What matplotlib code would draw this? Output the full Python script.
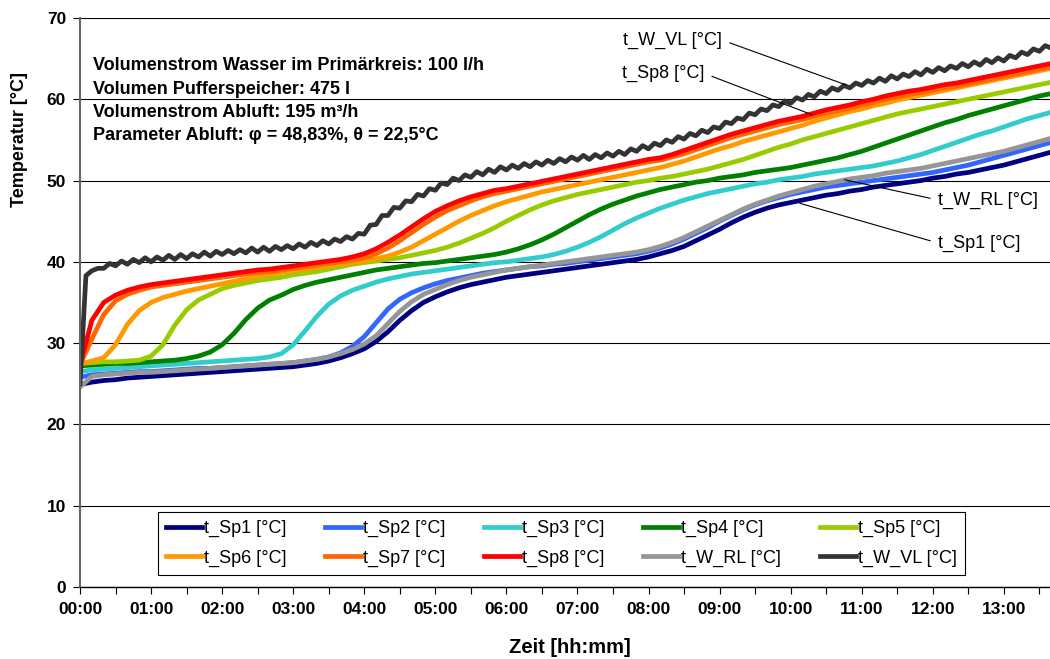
import matplotlib
matplotlib.use("Agg")
import matplotlib.pyplot as plt
import numpy as np
from matplotlib.ticker import MultipleLocator

plt.rcParams["font.family"] = ["Liberation Sans", "DejaVu Sans"]

# storage temperatures, one value every 10 minutes starting at 00:00
t_sp1 = [
    24.9, 25.2, 25.4, 25.5, 25.7, 25.8,
    25.9, 26.0, 26.1, 26.2, 26.3, 26.4,
    26.5, 26.6, 26.7, 26.8, 26.9, 27.0,
    27.1, 27.3, 27.5, 27.8, 28.2, 28.7,
    29.3, 30.2, 31.4, 32.8, 34.0, 35.0,
    35.7, 36.3, 36.8, 37.2, 37.5, 37.8,
    38.1, 38.3, 38.5, 38.7, 38.9, 39.1,
    39.3, 39.5, 39.7, 39.9, 40.1, 40.3,
    40.6, 41.0, 41.4, 41.9, 42.6, 43.3,
    44.0, 44.8, 45.5, 46.1, 46.6, 47.0,
    47.3, 47.6, 47.9, 48.2, 48.4, 48.7,
    48.9, 49.2, 49.4, 49.6, 49.8, 50.0,
    50.3, 50.5, 50.8, 51.0, 51.3, 51.6,
    51.9, 52.3, 52.7, 53.1, 53.5, 53.8,
]
t_sp2 = [
    25.8, 26.1, 26.2, 26.3, 26.4, 26.5,
    26.5, 26.6, 26.7, 26.8, 26.9, 26.9,
    27.0, 27.1, 27.2, 27.3, 27.4, 27.5,
    27.6, 27.8, 28.0, 28.3, 28.8, 29.6,
    30.8, 32.5, 34.2, 35.4, 36.2, 36.8,
    37.3, 37.7, 38.0, 38.3, 38.6, 38.8,
    39.0, 39.2, 39.4, 39.5, 39.7, 39.8,
    40.0, 40.2, 40.4, 40.6, 40.8, 41.0,
    41.3, 41.7, 42.2, 42.8, 43.5, 44.2,
    45.0, 45.7, 46.4, 47.0, 47.5, 47.9,
    48.3, 48.6, 48.9, 49.2, 49.4, 49.6,
    49.8, 50.0, 50.2, 50.4, 50.6, 50.8,
    51.0, 51.3, 51.6, 51.9, 52.3, 52.7,
    53.1, 53.5, 53.9, 54.3, 54.7, 55.0,
]
t_sp3 = [
    26.5, 26.7, 26.8, 26.9, 27.0, 27.1,
    27.2, 27.3, 27.4, 27.5, 27.6, 27.7,
    27.8, 27.9, 28.0, 28.1, 28.3, 28.7,
    29.8, 31.5, 33.3, 34.8, 35.8, 36.5,
    37.0, 37.5, 37.9, 38.2, 38.5, 38.7,
    38.9, 39.1, 39.3, 39.5, 39.7, 39.9,
    40.0, 40.2, 40.4, 40.6, 40.9, 41.3,
    41.8, 42.4, 43.1, 43.9, 44.7, 45.4,
    46.0, 46.6, 47.1, 47.6, 48.0, 48.4,
    48.7, 49.0, 49.3, 49.6, 49.8, 50.1,
    50.3, 50.5, 50.8, 51.0, 51.2, 51.4,
    51.6, 51.8, 52.1, 52.4, 52.8, 53.2,
    53.7, 54.2, 54.7, 55.2, 55.7, 56.1,
    56.6, 57.1, 57.6, 58.0, 58.4, 58.7,
]
t_sp4 = [
    27.2, 27.3, 27.4, 27.5, 27.5, 27.6,
    27.7, 27.8, 27.9, 28.1, 28.4, 28.9,
    29.8, 31.2, 32.9, 34.3, 35.3, 35.9,
    36.6, 37.1, 37.5, 37.8, 38.1, 38.4,
    38.7, 39.0, 39.2, 39.4, 39.6, 39.8,
    39.9, 40.1, 40.3, 40.5, 40.7, 40.9,
    41.2, 41.6, 42.1, 42.7, 43.4, 44.2,
    45.0, 45.8, 46.5, 47.1, 47.6, 48.1,
    48.5, 48.9, 49.2, 49.5, 49.8, 50.0,
    50.3, 50.5, 50.7, 51.0, 51.2, 51.4,
    51.6, 51.9, 52.2, 52.5, 52.8, 53.2,
    53.6, 54.1, 54.6, 55.1, 55.6, 56.1,
    56.6, 57.1, 57.5, 58.0, 58.4, 58.8,
    59.2, 59.6, 60.0, 60.4, 60.7, 60.9,
]
t_sp5 = [
    27.5, 27.6, 27.7, 27.7, 27.8, 27.9,
    28.4, 29.8, 32.2, 34.1, 35.3, 36.0,
    36.7, 37.1, 37.4, 37.7, 37.9, 38.1,
    38.4, 38.6, 38.8, 39.1, 39.4, 39.7,
    39.9, 40.1, 40.3, 40.5, 40.8, 41.1,
    41.4, 41.8, 42.3, 42.9, 43.5, 44.2,
    45.0, 45.7, 46.4, 47.0, 47.5, 47.9,
    48.3, 48.6, 48.9, 49.2, 49.5, 49.8,
    50.0, 50.3, 50.5, 50.8, 51.1, 51.4,
    51.8, 52.2, 52.6, 53.1, 53.6, 54.1,
    54.5, 55.0, 55.4, 55.8, 56.2, 56.6,
    57.0, 57.4, 57.8, 58.2, 58.5, 58.8,
    59.1, 59.4, 59.7, 60.0, 60.3, 60.6,
    60.9, 61.2, 61.5, 61.8, 62.1, 62.3,
]
t_sp6 = [
    27.4, 27.8, 28.2, 29.8, 32.3, 34.0,
    35.0, 35.6, 36.0, 36.4, 36.7, 37.0,
    37.3, 37.6, 37.9, 38.2, 38.4, 38.7,
    38.9, 39.1, 39.3, 39.5, 39.7, 39.9,
    40.1, 40.4, 40.7, 41.2, 41.8, 42.6,
    43.4, 44.2, 45.0, 45.7, 46.3, 46.9,
    47.4, 47.8, 48.2, 48.6, 48.9, 49.2,
    49.5, 49.8, 50.1, 50.4, 50.7, 51.0,
    51.3, 51.6, 52.0, 52.4, 52.9, 53.4,
    53.9, 54.3, 54.8, 55.2, 55.6, 56.0,
    56.4, 56.8, 57.3, 57.7, 58.1, 58.5,
    58.8, 59.2, 59.5, 59.9, 60.2, 60.5,
    60.8, 61.1, 61.4, 61.7, 62.0, 62.3,
    62.6, 62.9, 63.2, 63.5, 63.8, 64.0,
]
t_sp7 = [
    27.3, 30.5, 33.5, 35.2, 36.0, 36.5,
    36.9, 37.1, 37.3, 37.5, 37.7, 37.9,
    38.1, 38.3, 38.5, 38.7, 38.8, 39.0,
    39.2, 39.4, 39.6, 39.8, 40.0, 40.2,
    40.5, 41.0, 41.7, 42.6, 43.6, 44.6,
    45.5, 46.3, 46.9, 47.5, 48.0, 48.4,
    48.7, 49.0, 49.3, 49.6, 49.9, 50.2,
    50.5, 50.8, 51.1, 51.4, 51.7, 52.0,
    52.3, 52.5, 52.9, 53.3, 53.8, 54.3,
    54.8, 55.3, 55.7, 56.1, 56.5, 56.9,
    57.2, 57.5, 57.9, 58.3, 58.6, 58.9,
    59.3, 59.6, 60.0, 60.3, 60.6, 60.8,
    61.1, 61.4, 61.6, 61.9, 62.2, 62.5,
    62.8, 63.1, 63.4, 63.7, 64.0, 64.2,
]
t_sp8 = [
    27.3, 32.8, 35.0, 35.9, 36.5, 36.9,
    37.2, 37.4, 37.6, 37.8, 38.0, 38.2,
    38.4, 38.6, 38.8, 39.0, 39.1, 39.3,
    39.5, 39.7, 39.9, 40.1, 40.3, 40.6,
    41.0, 41.6, 42.4, 43.3, 44.3, 45.3,
    46.2, 46.9, 47.5, 48.0, 48.4, 48.8,
    49.0, 49.3, 49.6, 49.9, 50.2, 50.5,
    50.8, 51.1, 51.4, 51.7, 52.0, 52.3,
    52.6, 52.8, 53.2, 53.7, 54.2, 54.7,
    55.2, 55.7, 56.1, 56.5, 56.9, 57.3,
    57.6, 57.9, 58.3, 58.7, 59.0, 59.3,
    59.7, 60.0, 60.4, 60.7, 61.0, 61.2,
    61.5, 61.8, 62.0, 62.3, 62.6, 62.9,
    63.2, 63.5, 63.8, 64.1, 64.4, 64.6,
]
t_w_rl = [
    24.6, 25.9, 26.1, 26.2, 26.3, 26.4,
    26.4, 26.5, 26.6, 26.7, 26.8, 26.9,
    27.0, 27.1, 27.2, 27.3, 27.4, 27.5,
    27.6, 27.8, 28.0, 28.3, 28.7, 29.2,
    29.9, 30.9, 32.4, 33.9, 35.1, 36.0,
    36.6, 37.2, 37.7, 38.1, 38.4, 38.7,
    39.0, 39.2, 39.4, 39.6, 39.8, 40.0,
    40.2, 40.4, 40.6, 40.8, 41.0, 41.2,
    41.5, 41.9, 42.4, 43.0, 43.7, 44.4,
    45.1, 45.8, 46.5, 47.1, 47.6, 48.1,
    48.5, 48.9, 49.3, 49.6, 49.9, 50.2,
    50.4, 50.6, 50.9, 51.1, 51.3, 51.5,
    51.8, 52.1, 52.4, 52.7, 53.0, 53.3,
    53.6, 54.0, 54.4, 54.8, 55.2, 55.5,
]
# supply temperature, one value every 5 minutes
t_w_vl = [
    25.0, 38.3, 38.9, 39.2, 39.2, 39.8, 39.5, 40.1, 39.7, 40.3, 39.9, 40.5,
    40.0, 40.6, 40.2, 40.8, 40.3, 40.9, 40.4, 41.0, 40.6, 41.2, 40.7, 41.3,
    40.9, 41.4, 41.0, 41.5, 41.1, 41.7, 41.2, 41.8, 41.3, 41.9, 41.5, 42.0,
    41.6, 42.2, 41.8, 42.4, 42.0, 42.6, 42.2, 42.8, 42.5, 43.1, 42.8, 43.5,
    43.4, 44.5, 44.6, 45.7, 45.7, 46.7, 46.6, 47.5, 47.4, 48.3, 48.1, 49.0,
    48.8, 49.7, 49.5, 50.3, 50.0, 50.7, 50.4, 51.1, 50.7, 51.4, 51.0, 51.7,
    51.3, 51.9, 51.5, 52.1, 51.7, 52.3, 51.9, 52.5, 52.1, 52.7, 52.3, 52.9,
    52.5, 53.1, 52.6, 53.2, 52.8, 53.4, 53.0, 53.6, 53.2, 53.9, 53.6, 54.3,
    53.9, 54.6, 54.3, 55.0, 54.7, 55.4, 55.1, 55.8, 55.5, 56.2, 55.9, 56.6,
    56.4, 57.2, 57.0, 57.7, 57.5, 58.3, 58.1, 58.8, 58.6, 59.3, 59.1, 59.8,
    59.5, 60.2, 59.9, 60.6, 60.3, 61.0, 60.7, 61.4, 61.1, 61.7, 61.4, 62.0,
    61.7, 62.3, 62.0, 62.6, 62.2, 62.9, 62.5, 63.1, 62.8, 63.4, 63.0, 63.7,
    63.3, 63.9, 63.5, 64.1, 63.8, 64.4, 64.0, 64.6, 64.2, 64.9, 64.5, 65.1,
    64.7, 65.4, 65.1, 65.8, 65.5, 66.2, 65.9, 66.6, 66.3,
]

hour_labels = ["00:00", "01:00", "02:00", "03:00", "04:00", "05:00", "06:00",
               "07:00", "08:00", "09:00", "10:00", "11:00", "12:00", "13:00"]

info_lines = [
    "Volumenstrom Wasser im Primärkreis: 100 l/h",
    "Volumen Pufferspeicher: 475 l",
    "Volumenstrom Abluft: 195 m³/h",
    "Parameter Abluft: φ = 48,83%, θ = 22,5°C",
]

hours = np.arange(len(t_sp1)) / 6.0
vl_hours = np.arange(len(t_w_vl)) / 12.0

series = [
    ("t_Sp1 [°C]", hours, t_sp1, "#000080"),
    ("t_Sp2 [°C]", hours, t_sp2, "#3366FF"),
    ("t_Sp3 [°C]", hours, t_sp3, "#33CCCC"),
    ("t_Sp4 [°C]", hours, t_sp4, "#008000"),
    ("t_Sp5 [°C]", hours, t_sp5, "#99CC00"),
    ("t_Sp6 [°C]", hours, t_sp6, "#FF9900"),
    ("t_Sp7 [°C]", hours, t_sp7, "#FF6600"),
    ("t_Sp8 [°C]", hours, t_sp8, "#FF0000"),
    ("t_W_RL [°C]", hours, t_w_rl, "#969696"),
    ("t_W_VL [°C]", vl_hours, t_w_vl, "#333333"),
]

fig = plt.figure(figsize=(10.5, 6.59), dpi=100)
ax = fig.add_axes([0.0762, 0.1093, 0.9238, 0.8634])

lines = {}
for label, x, y, color in series:
    (ln,) = ax.plot(x, y, color=color, lw=3.4, label=label)
    lines[label] = ln

ax.set_xlim(0, 13.65)
ax.set_ylim(0, 70)
ax.set_yticks(range(0, 71, 10))
ax.set_xticks(range(len(hour_labels)))
ax.set_xticklabels(hour_labels)
ax.xaxis.set_minor_locator(MultipleLocator(0.5))
ax.yaxis.grid(True, color="black", lw=0.8)
ax.set_axisbelow(True)

ax.tick_params(axis="both", which="both", direction="out", length=5, width=0.8,
               labelsize=12.5)
ax.tick_params(axis="x", pad=6)
ax.tick_params(axis="y", pad=5)
for lbl in ax.get_xticklabels() + ax.get_yticklabels():
    lbl.set_fontweight("bold")

for side in ("top", "right"):
    ax.spines[side].set_visible(False)
ax.spines["left"].set_color("#666666")
ax.spines["left"].set_linewidth(1.5)
ax.spines["bottom"].set_linewidth(1.0)

ax.set_xlabel("Zeit [hh:mm]", fontsize=14.5, fontweight="bold")
ax.xaxis.label.set_va("center")
ax.xaxis.set_label_coords(0.505, -0.107)
ax.set_ylabel("Temperatur [°C]", fontsize=13, fontweight="bold")
ax.yaxis.label.set_va("center")
ax.yaxis.set_label_coords(-0.062, 0.786)

for i, line in enumerate(info_lines):
    ax.text(0.18, 64.1 - 2.85 * i, line, fontsize=13, fontweight="bold",
            ha="left", va="center")

# labels with leader lines pointing at individual curves
callouts = [
    ("t_W_VL [°C]", (10.77, 61.8), (9.03, 67.3), "right", (1, 0.5)),
    ("t_Sp8 [°C]", (10.30, 58.1), (8.78, 63.2), "right", (1, 0.5)),
    ("t_W_RL [°C]", (10.76, 50.1), (12.08, 47.6), "left", (0, 0.5)),
    ("t_Sp1 [°C]", (10.13, 47.2), (12.08, 42.3), "left", (0, 0.5)),
]
for text, xy, xytext, ha, rel in callouts:
    ax.annotate(text, xy=xy, xytext=xytext, ha=ha, va="center", fontsize=13,
                arrowprops=dict(arrowstyle="-", color="black", lw=0.8,
                                shrinkA=4, shrinkB=0, relpos=rel))

# legend is filled column by column, so interleave the two rows
order = ["t_Sp1 [°C]", "t_Sp6 [°C]", "t_Sp2 [°C]", "t_Sp7 [°C]",
         "t_Sp3 [°C]", "t_Sp8 [°C]", "t_Sp4 [°C]", "t_W_RL [°C]",
         "t_Sp5 [°C]", "t_W_VL [°C]"]
leg = ax.legend([lines[k] for k in order], order, ncol=5, loc="lower left",
                bbox_to_anchor=(0.0804, 0.0211, 0.8316, 0.1107), mode="expand",
                fancybox=False, framealpha=1, edgecolor="black", fontsize=13,
                handlelength=2.0, handletextpad=0.1, borderpad=0.45,
                labelspacing=0.7, borderaxespad=0)
leg.get_frame().set_linewidth(0.8)

fig.savefig("out.png", dpi=100)
